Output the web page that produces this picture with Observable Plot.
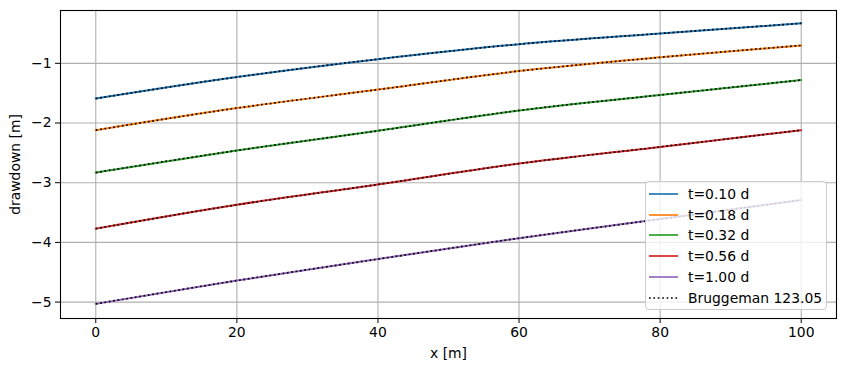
<!DOCTYPE html>
<html>
<head>
<meta charset="utf-8">
<script src="https://cdn.jsdelivr.net/npm/d3@7"></script>
<script src="https://cdn.jsdelivr.net/npm/@observablehq/plot@0.6"></script>
<style>
  html, body { margin: 0; padding: 0; background: white; }
  #wrap { position: relative; width: 844px; height: 371px; font-family: "DejaVu Sans", sans-serif; }
  #legend {
    position: absolute; left: 645px; top: 181px; width: 182px; height: 129px;
    background: rgba(255,255,255,0.8); border: 1px solid #cccccc; border-radius: 4px;
    box-sizing: border-box; font-size: 13.9px; color: black;
  }
  .row { position: absolute; left: 0; height: 20px; display: flex; align-items: center; white-space: nowrap; }
  .row svg { margin-left: 3px; margin-right: 10px; }
</style>
</head>
<body>
<div id="wrap"></div>
<script>
const xs = [0, 20, 40, 60, 80, 100];
const seriesNames = ["t=0.10 d", "t=0.18 d", "t=0.32 d", "t=0.56 d", "t=1.00 d"];
const seriesColors = ["#1f77b4", "#ff7f0e", "#2ca02c", "#d62728", "#9467bd"];
const s010 = [-1.59, -1.23, -0.93, -0.68, -0.50, -0.33];
const s018 = [-2.12, -1.75, -1.44, -1.13, -0.90, -0.70];
const s032 = [-2.83, -2.46, -2.13, -1.79, -1.53, -1.28];
const s056 = [-3.77, -3.37, -3.03, -2.68, -2.40, -2.12];
const s100 = [-5.03, -4.64, -4.28, -3.93, -3.61, -3.29];
const xTicks = [0, 20, 40, 60, 80, 100];
const yTicks = [-1, -2, -3, -4, -5];
const xLabel = "x [m]";
const yLabel = "drawdown [m]";
const brugLabel = "Bruggeman 123.05";

const allSeries = [s010, s018, s032, s056, s100];
const data = [];
allSeries.forEach((vals, i) => vals.forEach((v, j) => data.push({series: seriesNames[i], x: xs[j], y: v})));

const fmt = d => String(d).replace("-", "\u2212");
const grid = {stroke: "#b0b0b0", strokeOpacity: 1, strokeWidth: 1.1};
const chart = Plot.plot({
  width: 844, height: 371,
  marginLeft: 60, marginRight: 8, marginTop: 10, marginBottom: 53,
  style: {fontFamily: "DejaVu Sans, sans-serif", fontSize: "13.9px", color: "black", background: "white"},
  x: {domain: [-5, 105]},
  y: {domain: [-5.275, -0.115]},
  color: {domain: seriesNames, range: seriesColors},
  marks: [
    Plot.gridX(xTicks, grid),
    Plot.gridY(yTicks, grid),
    Plot.line(data, {x: "x", y: "y", z: "series", stroke: "series", strokeWidth: 2, curve: "monotone-x"}),
    Plot.line(data, {x: "x", y: "y", z: "series", stroke: "black", strokeWidth: 1.7, strokeDasharray: "1.7,2.7", strokeLinecap: "butt", curve: "monotone-x"}),
    Plot.frame({stroke: "black", strokeWidth: 1.1}),
    Plot.axisX(xTicks, {tickSize: 5, tickPadding: 4, tickFormat: fmt, label: xLabel, labelAnchor: "center", labelArrow: "none", labelOffset: 39, fontSize: 13.9, stroke: "black"}),
    Plot.axisY(yTicks, {tickSize: 5, tickPadding: 4, tickFormat: fmt, label: yLabel, labelAnchor: "center", labelArrow: "none", labelOffset: 50, fontSize: 13.9, stroke: "black"})
  ]
});
const wrap = document.getElementById("wrap");
wrap.appendChild(chart);

const legend = document.createElement("div");
legend.id = "legend";
const entries = seriesNames.map((n, i) => ({label: n, color: seriesColors[i], dash: null}));
entries.push({label: brugLabel, color: "black", dash: "1.7,2.7"});
entries.forEach((e, i) => {
  const row = document.createElement("div");
  row.className = "row";
  row.style.top = (2 + i * 20.7) + "px";
  row.innerHTML = `<svg width="29" height="20"><line x1="0" x2="29" y1="10" y2="10" stroke="${e.color}" stroke-width="1.7" ${e.dash ? `stroke-dasharray="${e.dash}"` : ""}/></svg><span>${e.label}</span>`;
  legend.appendChild(row);
});
wrap.appendChild(legend);
</script>
</body>
</html>
